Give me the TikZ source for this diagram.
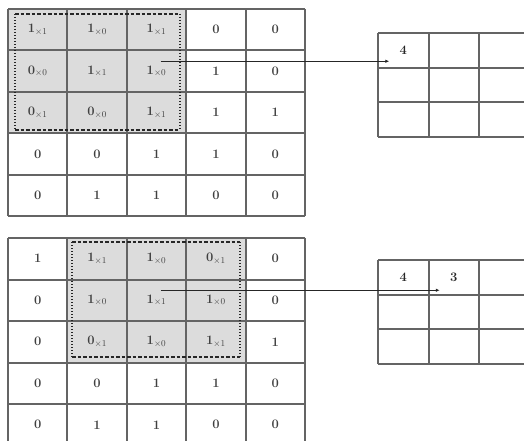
\documentclass[tikz,border=0pt]{standalone}
\usepackage{amsmath,amssymb}
\usepackage{xcolor}
\usepackage{tikz}
\usetikzlibrary{calc,arrows.meta}
\definecolor{GridGray}{RGB}{100,100,100}
\definecolor{CellShade}{RGB}{220,220,220}
\definecolor{InkGray}{RGB}{64,64,64}
\newcommand{\kv}[2]{#1$_{\times#2}$}

\tikzset{
  gridline/.style={GridGray, line width=2bp},
  cellval/.style={text=InkGray, font=\fontsize{13}{15}\selectfont\bfseries, inner sep=0pt},
  outval/.style={text=black!85, font=\fontsize{13}{15}\selectfont\bfseries, inner sep=0pt},
  winedge/.style={black!85, line width=1.1bp, dash pattern=on 3.5bp off 2bp},
  winside/.style={black!85, line width=1.5bp, dash pattern=on 1.3bp off 1.7bp},
  pointer/.style={black!85, line width=0.9bp, -{Latex[length=4bp,width=3.5bp]}}
}

\begin{document}
\begin{tikzpicture}[x=1bp, y=-1bp]
  \useasboundingbox (0,0) rectangle (524,441);
  \clip (0,0) rectangle (524,441);
  % shaded 3x3 windows
  \fill[CellShade] (8,9) rectangle (186.2,133.5);
  \fill[CellShade] (67.4,238) rectangle (245.6,362.5);
  % input grids
  \foreach \oy in {9,238} {
    \foreach \i in {0,...,5} {
      \draw[gridline] (8+59.4*\i, \oy) -- (8+59.4*\i, \oy+207.5);
      \draw[gridline] (8, \oy+41.5*\i) -- (305, \oy+41.5*\i);
    }
  }
  % output grids
  \foreach \oy in {33,260} {
    \foreach \i in {0,...,3} {
      \draw[gridline] (378+50.5*\i, \oy) -- (378+50.5*\i, \oy+104);
      \draw[gridline] (378, \oy+34.7*\i) -- (530, \oy+34.7*\i);
    }
  }
  % window borders
  \draw[winedge] (15,14) -- (180,14) (15,130) -- (180,130);
  \draw[winside] (15,14) -- (15,130) (180,14) -- (180,130);
  \draw[winedge] (72,242) -- (240,242) (72,357) -- (240,357);
  \draw[winside] (72,242) -- (72,357) (240,242) -- (240,357);
  % top input values
  \foreach \r/\vals in {1/{\kv11,\kv10,\kv11,0,0},
                        2/{\kv00,\kv11,\kv10,1,0},
                        3/{\kv01,\kv00,\kv11,1,1},
                        4/{0,0,1,1,0},
                        5/{0,1,1,0,0}}
    \foreach \v [count=\c] in \vals
      \node[cellval] (t-\r-\c) at (8+59.4*\c-29.7, 9+41.5*\r-20.75) {\v};
  % bottom input values
  \foreach \r/\vals in {1/{1,\kv11,\kv10,\kv01,0},
                        2/{0,\kv10,\kv11,\kv10,0},
                        3/{0,\kv01,\kv10,\kv11,1},
                        4/{0,0,1,1,0},
                        5/{0,1,1,0,0}}
    \foreach \v [count=\c] in \vals
      \node[cellval] (b-\r-\c) at (8+59.4*\c-29.7, 238+41.5*\r-20.75) {\v};
  % output values
  \node[outval] (o1-1) at (403.25,50.35) {4};
  \node[outval] (o2-1) at (403.25,277.35) {4};
  \node[outval] (o2-2) at (453.75,277.35) {3};
  % arrows
  \coordinate (src1) at ($(t-2-3.center)+(4,-10)$);
  \coordinate (dst1) at ($(o1-1.center)+(-14,10)$);
  \draw[pointer] (src1) -- (src1 -| dst1);
  \coordinate (src2) at ($(b-2-3.center)+(4,-10)$);
  \coordinate (dst2) at ($(o2-2.center)+(-14,10)$);
  \draw[pointer] (src2) -- (src2 -| dst2);
\end{tikzpicture}
\end{document}
